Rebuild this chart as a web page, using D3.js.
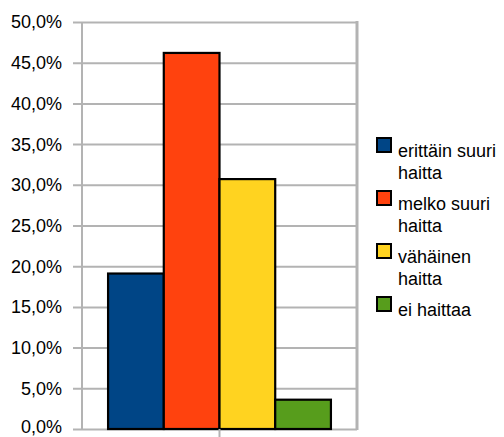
<!DOCTYPE html>
<html>
<head>
<meta charset="utf-8">
<script src="https://cdn.jsdelivr.net/npm/d3@7"></script>
<style>
  html, body { margin: 0; padding: 0; background: #fff; }
  svg { display: block; }
  text { font-family: "Liberation Sans", Arial, sans-serif; fill: #000; }
</style>
</head>
<body>
<svg id="chart" width="504" height="437"></svg>
<script>
const categories = [""];
const seriesNames = ["erittäin suuri haitta", "melko suuri haitta", "vähäinen haitta", "ei haittaa"];
const seriesLegendLines = [["erittäin suuri", "haitta"], ["melko suuri", "haitta"], ["vähäinen", "haitta"], ["ei haittaa"]];
const seriesValues = [19.1, 46.2, 30.7, 3.6];
const seriesColors = ["#004586", "#ff420e", "#ffd320", "#579d1c"];
const yTicks = [0, 5, 10, 15, 20, 25, 30, 35, 40, 45, 50];

const svg = d3.select("#chart");
const plot = { left: 82, right: 357, top: 22, bottom: 429 };

const y = d3.scaleLinear().domain([0, 50]).range([plot.bottom, plot.top]);
const x0 = d3.scaleBand().domain(categories).range([plot.left, plot.right])
  .paddingInner(0).paddingOuter(0.117);
const x1 = d3.scaleBand().domain(seriesNames).range([0, x0.bandwidth()]).padding(0);

const fmt = v => d3.format(".1f")(v).replace(".", ",") + "%";

// gridlines + y ticks
const yAxis = d3.axisLeft(y).tickValues(yTicks).tickFormat(fmt)
  .tickSize(-(plot.right - plot.left)).tickPadding(10);
const gy = svg.append("g").attr("transform", `translate(${plot.left},0)`).call(yAxis);
gy.select(".domain").remove();
gy.selectAll(".tick line").attr("stroke", "#b3b3b3").attr("stroke-width", 2)
  .attr("x1", -9).attr("x2", plot.right - plot.left);
gy.selectAll(".tick text").attr("font-size", 18).attr("dy", "0.33em").attr("x", -20)
  .attr("y", d => d === 0 ? -2 : 0);

// frame: left axis and right border
svg.append("line").attr("x1", plot.left).attr("x2", plot.left)
  .attr("y1", plot.top).attr("y2", plot.bottom)
  .attr("stroke", "#b3b3b3").attr("stroke-width", 2);
svg.append("line").attr("x1", plot.right).attr("x2", plot.right)
  .attr("y1", plot.top - 1).attr("y2", plot.bottom + 1)
  .attr("stroke", "#b3b3b3").attr("stroke-width", 3);

// bars
const g = svg.append("g");
categories.forEach(cat => {
  seriesNames.forEach((s, i) => {
    g.append("rect")
      .attr("x", x0(cat) + x1(s))
      .attr("y", y(seriesValues[i]))
      .attr("width", x1.bandwidth())
      .attr("height", y(0) - y(seriesValues[i]))
      .attr("fill", seriesColors[i])
      .attr("stroke", "#000").attr("stroke-width", 2.2);
  });
});

// x axis tick at category center
const xAxis = d3.axisBottom(x0).tickSize(8).tickFormat("");
const gx = svg.append("g").attr("transform", `translate(0,${plot.bottom})`).call(xAxis);
gx.select(".domain").remove();
gx.selectAll(".tick line").attr("stroke", "#b3b3b3").attr("stroke-width", 2);

// legend
const legendX = 377, legendTop = [138, 191, 244, 297];
seriesNames.forEach((s, i) => {
  const lg = svg.append("g").attr("transform", `translate(${legendX},${legendTop[i]})`);
  lg.append("rect").attr("x", 0).attr("y", 0).attr("width", 14).attr("height", 14)
    .attr("fill", seriesColors[i]).attr("stroke", "#000").attr("stroke-width", 2);
  seriesLegendLines[i].forEach((line, j) => {
    lg.append("text").attr("x", 21).attr("y", 19 + j * 22)
      .attr("font-size", 18).text(line);
  });
});
</script>
</body>
</html>
